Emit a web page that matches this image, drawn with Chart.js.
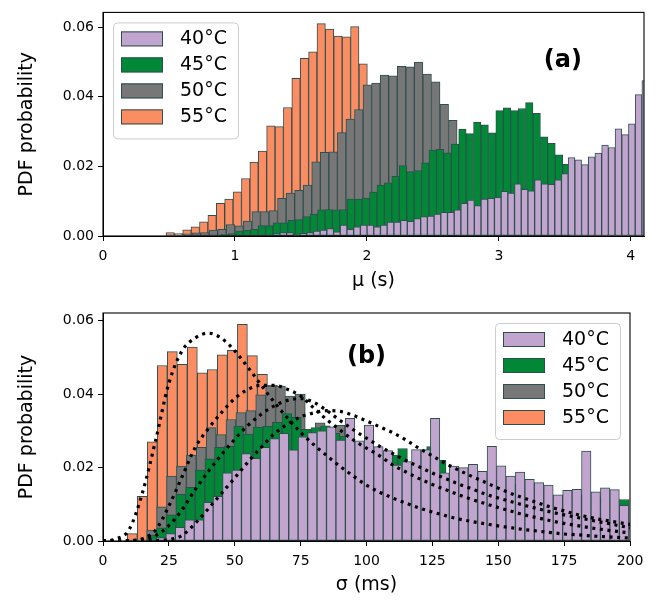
<!DOCTYPE html>
<html>
<head>
<meta charset="utf-8">
<script src="https://cdn.jsdelivr.net/npm/chart.js@4.4.0/dist/chart.umd.min.js"></script>
<style>
body { margin: 0; background: #fff; }
#wrap { position: relative; width: 660px; height: 603px; }
canvas { position: absolute; left: 0; }
</style>
</head>
<body>
<div id="wrap">
  <canvas id="chartA" width="660" height="290" style="top:0px"></canvas>
  <canvas id="chartB" width="660" height="313" style="top:290px"></canvas>
</div>
<script>
// legend labels, one per temperature
var temps = ["40°C", "45°C", "50°C", "55°C"];

// ---- panel (a): mu histograms (first bin edge, bin width, bin heights) ----
var muStart = [1.290, 0.894, 0.610, 0.477];
var muWidth = [0.0508, 0.0563, 0.0648, 0.0636];
var mu40 = [0.0007, 0.0010, 0.0010, 0.0003, 0.0008, 0.0010, 0.0014, 0.0017, 0.0021, 0.0012,
            0.0031, 0.0019, 0.0026, 0.0031, 0.0031, 0.0026, 0.0031, 0.0040, 0.0040, 0.0045,
            0.0042, 0.0050, 0.0056, 0.0057, 0.0063, 0.0068, 0.0068, 0.0075, 0.0094, 0.0103,
            0.0087, 0.0106, 0.0108, 0.0111, 0.0128, 0.0123, 0.0150, 0.0134, 0.0130, 0.0161,
            0.0150, 0.0148, 0.0161, 0.0179, 0.0225, 0.0219, 0.0205, 0.0227, 0.0238, 0.0261,
            0.0254, 0.0308, 0.0291, 0.0322, 0.0406, 0.0446];
var mu45 = [0.0005, 0.0007, 0.0014, 0.0016, 0.0019, 0.0030, 0.0030, 0.0038, 0.0038, 0.0045,
            0.0047, 0.0056, 0.0063, 0.0075, 0.0076, 0.0075, 0.0076, 0.0106, 0.0106, 0.0109,
            0.0126, 0.0146, 0.0153, 0.0171, 0.0202, 0.0185, 0.0188, 0.0210, 0.0247, 0.0249,
            0.0239, 0.0264, 0.0307, 0.0294, 0.0327, 0.0319, 0.0296, 0.0360, 0.0368, 0.0360,
            0.0366, 0.0383, 0.0352, 0.0285, 0.0266, 0.0233, 0.0206];
var mu50 = [0.0006, 0.0009, 0.0010, 0.0017, 0.0019, 0.0033, 0.0029, 0.0043, 0.0070, 0.0070,
            0.0073, 0.0108, 0.0123, 0.0131, 0.0146, 0.0213, 0.0240, 0.0242, 0.0297, 0.0336,
            0.0363, 0.0434, 0.0439, 0.0462, 0.0460, 0.0487, 0.0486, 0.0499, 0.0465, 0.0443,
            0.0378, 0.0332];
var mu55 = [0.0010, 0.0007, 0.0018, 0.0026, 0.0041, 0.0059, 0.0094, 0.0106, 0.0127, 0.0165,
            0.0212, 0.0244, 0.0316, 0.0314, 0.0369, 0.0453, 0.0510, 0.0529, 0.0610, 0.0594,
            0.0574, 0.0572, 0.0601, 0.0494];
var muTicks = [0, 1, 2, 3, 4];

// ---- panel (b): sigma histograms ----
var sigStart = [16.7, 16.7, 16.6, 9.2];
var sigWidth = [3.585, 3.66, 3.76, 3.80];
var sig40 = [0.0004, 0.0009, 0.0020, 0.0037, 0.0058, 0.0058, 0.0105, 0.0122, 0.0186, 0.0193,
             0.0238, 0.0225, 0.0255, 0.0279, 0.0293, 0.0248, 0.0284, 0.0295, 0.0300, 0.0311,
             0.0275, 0.0334, 0.0273, 0.0316, 0.0257, 0.0246, 0.0207, 0.0216, 0.0249, 0.0249,
             0.0334, 0.0186, 0.0204, 0.0200, 0.0209, 0.0190, 0.0258, 0.0205, 0.0177, 0.0188,
             0.0168, 0.0159, 0.0152, 0.0126, 0.0138, 0.0141, 0.0245, 0.0134, 0.0145, 0.0140,
             0.0097];
var sig45 = [0.0016, 0.0036, 0.0071, 0.0127, 0.0146, 0.0193, 0.0224, 0.0255, 0.0258, 0.0313,
             0.0291, 0.0310, 0.0312, 0.0323, 0.0347, 0.0337, 0.0304, 0.0309, 0.0314, 0.0293,
             0.0285, 0.0260, 0.0260, 0.0250, 0.0238, 0.0234, 0.0252, 0.0210, 0.0240, 0.0257,
             0.0220, 0.0180, 0.0185, 0.0180, 0.0175, 0.0170, 0.0165, 0.0160, 0.0155, 0.0150,
             0.0145, 0.0140, 0.0118, 0.0118, 0.0125, 0.0125, 0.0120, 0.0120, 0.0115, 0.0113];
var sig50 = [0.0030, 0.0093, 0.0177, 0.0204, 0.0234, 0.0255, 0.0309, 0.0290, 0.0331, 0.0350,
             0.0355, 0.0398, 0.0422, 0.0422, 0.0395, 0.0400, 0.0300, 0.0322, 0.0305, 0.0316];
var sig55 = [0.0020, 0.0122, 0.0270, 0.0478, 0.0516, 0.0481, 0.0528, 0.0458, 0.0467, 0.0507,
             0.0519, 0.0590, 0.0505, 0.0454, 0.0425];
var sigTicks = [0, 25, 50, 75, 100, 125, 150, 175, 200];

// fitted curves (dotted), read at every 5 ms
var fitSigma = [0, 5, 10, 15, 20, 25, 30, 35, 40, 45, 50, 55, 60, 65, 70, 75, 80, 85, 90, 95, 100,
                105, 110, 115, 120, 125, 130, 135, 140, 145, 150, 155, 160, 165, 170, 175, 180,
                185, 190, 195, 200];
var fit40 = [0, 0, 0, 0, 0.0001, 0.0004, 0.0015, 0.0048, 0.0088, 0.0130, 0.0172, 0.0215, 0.0255,
             0.0292, 0.0318, 0.0338, 0.0349, 0.0355, 0.0353, 0.0342, 0.0327, 0.0311, 0.0295,
             0.0275, 0.0252, 0.0232, 0.0211, 0.0193, 0.0176, 0.0160, 0.0144, 0.0129, 0.0116,
             0.0104, 0.0092, 0.0082, 0.0072, 0.0064, 0.0057, 0.0051, 0.0045];
var fit45 = [0, 0, 0, 0.0003, 0.0015, 0.0042, 0.0085, 0.0140, 0.0190, 0.0235, 0.0277, 0.0315,
             0.0345, 0.0368, 0.0383, 0.0388, 0.0378, 0.0355, 0.0328, 0.0303, 0.0280, 0.0258,
             0.0238, 0.0219, 0.0202, 0.0185, 0.0170, 0.0155, 0.0142, 0.0128, 0.0117, 0.0107,
             0.0097, 0.0088, 0.0079, 0.0071, 0.0064, 0.0057, 0.0050, 0.0043, 0.0036];
var fit50 = [0, 0, 0.0001, 0.0006, 0.0030, 0.0095, 0.0175, 0.0255, 0.0306, 0.0350, 0.0388,
             0.0413, 0.0424, 0.0424, 0.0413, 0.0395, 0.0362, 0.0330, 0.0302, 0.0275, 0.0253,
             0.0232, 0.0207, 0.0188, 0.0170, 0.0154, 0.0140, 0.0126, 0.0113, 0.0102, 0.0091,
             0.0081, 0.0071, 0.0063, 0.0055, 0.0048, 0.0042, 0.0036, 0.0031, 0.0026, 0.0022];
var fit55 = [0, 0.0006, 0.0032, 0.0132, 0.0275, 0.0430, 0.0518, 0.0553, 0.0566, 0.0552, 0.0518,
             0.0473, 0.0425, 0.0378, 0.0335, 0.0296, 0.0262, 0.0232, 0.0203, 0.0177, 0.0152,
             0.0133, 0.0117, 0.0103, 0.0090, 0.0079, 0.0069, 0.0060, 0.0053, 0.0047, 0.0041,
             0.0036, 0.0031, 0.0027, 0.0023, 0.0019, 0.0017, 0.0014, 0.0012, 0.0010, 0.0008];
var yTicks = [0, 0.02, 0.04, 0.06];

// ---- styles ----
var fillColors = ["#c2a5cf", "#008837", "#777777", "#fc8d62"];
var edgeColor = "#2f4f4f";
var FONT = "'DejaVu Sans', 'Liberation Sans', sans-serif";
Chart.defaults.font.family = FONT;
Chart.defaults.color = "#000";

function hist(start, width, heights) {
    return heights.map(function (h, i) {
        return { x: start + (i + 0.5) * width, y: h };
    });
}

function barSet(i, pts) {
    return {
        type: "bar", label: temps[i], data: pts, xAxisID: "x" + i,
        backgroundColor: fillColors[i], borderColor: edgeColor, borderWidth: 1,
        borderSkipped: false, grouped: false, barPercentage: 1, categoryPercentage: 1
    };
}

function fitSet(vals) {
    return {
        type: "line", data: fitSigma.map(function (s, i) { return { x: s, y: vals[i] }; }),
        xAxisID: "x", borderColor: "#000", borderWidth: 3.2, borderDash: [3, 4.6],
        pointRadius: 0, fill: false, cubicInterpolationMode: "monotone", order: -1
    };
}

function hiddenX(max) {
    return { type: "linear", display: false, min: 0, max: max, offset: false, grid: { offset: false } };
}

function mainX(max, ticks, label, h, padBottom) {
    return {
        type: "linear", min: 0, max: max, offset: false,
        afterBuildTicks: function (s) { s.ticks = ticks.map(function (v) { return { value: v }; }); },
        afterFit: function (s) { s.height = h; },
        grid: { offset: false, drawOnChartArea: false, drawTicks: true, tickLength: 5, color: "#000" },
        border: { color: "#000" },
        ticks: { font: { size: 14 }, padding: 7, maxRotation: 0, callback: function (v) { return String(v); } },
        title: { display: true, text: label, font: { size: 19, lineHeight: 1 }, padding: { top: 0, bottom: padBottom } }
    };
}

function mainY(max) {
    return {
        min: 0, max: max,
        afterBuildTicks: function (s) { s.ticks = yTicks.map(function (v) { return { value: v }; }); },
        afterFit: function (s) { s.width = 103; },
        grid: { drawOnChartArea: false, drawTicks: true, tickLength: 5, color: "#000" },
        border: { color: "#000" },
        ticks: { font: { size: 14 }, padding: 4, callback: function (v) { return v.toFixed(2); } },
        title: { display: true, text: "PDF probability", font: { size: 19, lineHeight: 1 }, padding: { top: 18, bottom: 0 } }
    };
}

// frame, legend box and panel tag, drawn on top of the bars
var panelDeco = {
    id: "panelDeco",
    afterDraw: function (chart, args, opts) {
        var ctx = chart.ctx, a = chart.chartArea;
        ctx.save();
        ctx.strokeStyle = "#000";
        ctx.lineWidth = 1.1;
        ctx.strokeRect(a.left, a.top, a.right - a.left, a.bottom - a.top);

        var sets = chart.data.datasets.filter(function (d) { return d.type === "bar"; });
        var w = 125, h = 116;
        var left = opts.side === "left" ? a.left + 10 : a.right - 10 - w;
        var top = a.top + 10;
        ctx.beginPath();
        ctx.roundRect(left + 0.5, top + 0.5, w, h, 4);
        ctx.fillStyle = "rgba(255,255,255,0.8)";
        ctx.fill();
        ctx.strokeStyle = "#cccccc";
        ctx.lineWidth = 1;
        ctx.stroke();
        ctx.font = "19px " + FONT;
        ctx.textBaseline = "middle";
        sets.forEach(function (d, i) {
            var y = top + 9 + i * 26;
            ctx.fillStyle = d.backgroundColor;
            ctx.fillRect(left + 8, y, 42, 15);
            ctx.strokeStyle = d.borderColor;
            ctx.strokeRect(left + 8.5, y + 0.5, 41, 14);
            ctx.fillStyle = "#000";
            ctx.fillText(d.label, left + 67, y + 8);
        });

        ctx.font = "bold 24px " + FONT;
        ctx.textAlign = "center";
        ctx.fillText(opts.tag, a.left + opts.tagX * (a.right - a.left), a.top + opts.tagY * (a.bottom - a.top));
        ctx.restore();
    }
};

new Chart(document.getElementById("chartA"), {
    type: "bar",
    data: {
        datasets: [
            barSet(0, hist(muStart[0], muWidth[0], mu40)),
            barSet(1, hist(muStart[1], muWidth[1], mu45)),
            barSet(2, hist(muStart[2], muWidth[2], mu50)),
            barSet(3, hist(muStart[3], muWidth[3], mu55))
        ]
    },
    options: {
        responsive: false, animation: false, events: [],
        layout: { padding: { left: 0, right: 16, top: 8, bottom: 0 } },
        scales: {
            x: mainX(4.1, muTicks, "μ (s)", 54, -1),
            x0: hiddenX(4.1), x1: hiddenX(4.1), x2: hiddenX(4.1), x3: hiddenX(4.1),
            y: mainY(0.0642)
        },
        plugins: {
            legend: { display: false }, tooltip: { enabled: false },
            panelDeco: { side: "left", tag: "(a)", tagX: 0.85, tagY: 0.215 }
        }
    },
    plugins: [panelDeco]
});

new Chart(document.getElementById("chartB"), {
    type: "bar",
    data: {
        datasets: [
            barSet(0, hist(sigStart[0], sigWidth[0], sig40)),
            barSet(1, hist(sigStart[1], sigWidth[1], sig45)),
            barSet(2, hist(sigStart[2], sigWidth[2], sig50)),
            barSet(3, hist(sigStart[3], sigWidth[3], sig55)),
            fitSet(fit40), fitSet(fit45), fitSet(fit50), fitSet(fit55)
        ]
    },
    options: {
        responsive: false, animation: false, events: [],
        layout: { padding: { left: 0, right: 30, top: 23, bottom: 0 } },
        scales: {
            x: mainX(200, sigTicks, "σ (ms)", 62, 8),
            x0: hiddenX(200), x1: hiddenX(200), x2: hiddenX(200), x3: hiddenX(200),
            y: mainY(0.0621)
        },
        plugins: {
            legend: { display: false }, tooltip: { enabled: false },
            panelDeco: { side: "right", tag: "(b)", tagX: 0.5, tagY: 0.19 }
        }
    },
    plugins: [panelDeco]
});
</script>
</body>
</html>
